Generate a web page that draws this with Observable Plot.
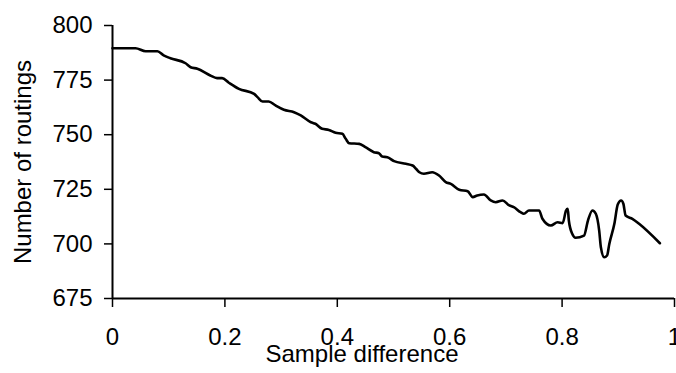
<!DOCTYPE html>
<html><head><meta charset="utf-8">
<script src="https://cdn.jsdelivr.net/npm/d3@7"></script>
<script src="https://cdn.jsdelivr.net/npm/@observablehq/plot@0.6"></script>
<style>html,body{margin:0;padding:0;background:#fff;overflow:hidden;}</style>
</head><body><div id="chart"></div>
<script>
const sampleDiff = [0,0.041,0.059,0.080,0.091,0.103,0.130,0.139,0.151,0.174,0.186,0.195,0.207,0.225,0.252,0.258,0.267,0.278,0.290,0.305,0.323,0.335,0.353,0.361,0.373,0.385,0.397,0.409,0.415,0.421,0.439,0.450,0.465,0.474,0.480,0.489,0.501,0.522,0.534,0.540,0.546,0.554,0.569,0.581,0.593,0.602,0.617,0.632,0.641,0.649,0.661,0.673,0.682,0.694,0.706,0.714,0.726,0.732,0.741,0.759,0.765,0.780,0.792,0.801,0.807,0.810,0.812,0.818,0.824,0.839,0.846,0.854,0.860,0.866,0.869,0.875,0.880,0.884,0.893,0.899,0.905,0.909,0.913,0.925,0.937,0.974];
const routings = [789.6,789.6,788.2,788.2,786.3,785.0,782.7,780.9,780.2,777.1,775.9,775.9,773.8,771.0,768.7,767.2,765.2,765.2,763.4,761.4,760.3,758.8,755.7,755.0,752.7,752.2,750.9,750.4,748.1,746.1,745.8,744.3,742.0,741.5,740.0,739.7,737.9,736.7,735.9,734.4,732.8,732.1,732.8,731.3,728.3,727.5,724.8,724.1,721.4,722.2,722.6,719.9,719.1,719.9,717.6,716.8,714.5,713.8,715.3,715.3,711.5,708.4,709.9,709.5,715.3,716.1,710.7,704.6,702.8,703.8,710.7,715.3,713.8,706.1,698.5,693.9,694.7,700.0,709.2,718.0,719.9,718.4,713.0,711.5,709.2,700.3];
const xTicks = [0,0.2,0.4,0.6,0.8,1];
const yTicks = [675,700,725,750,775,800];
const xLabel = "Sample difference";
const yLabel = "Number of routings";

const data = sampleDiff.map((x, i) => ({x, y: routings[i]}));

const chart = Plot.plot({
  width: 676, height: 373,
  marginLeft: 112, marginRight: 2, marginTop: 25, marginBottom: 75,
  style: {fontFamily: "'Liberation Sans', Arial, sans-serif", fontSize: "24px", color: "#000", background: "#fff"},
  x: {domain: [0, 1]},
  y: {domain: [675, 800]},
  marks: [
    Plot.axisX({ticks: xTicks, tickFormat: d => String(d), tickSize: 9, tickPadding: 20, label: null, strokeWidth: 1.5, fontSize: 24}),
    Plot.axisY({ticks: yTicks, tickFormat: d => String(d), tickSize: 8, tickPadding: 12, label: null, strokeWidth: 1.5, fontSize: 24}),
    Plot.ruleY([675], {strokeWidth: 2}),
    Plot.ruleX([0], {strokeWidth: 2}),
    Plot.line(data, {x: "x", y: "y", curve: "monotone-x", stroke: "#000", strokeWidth: 2.6})
  ]
});
document.getElementById("chart").appendChild(chart);
const svg = d3.select(chart);
svg.append("text").attr("x", 362).attr("y", 362).attr("text-anchor", "middle")
  .attr("font-size", 24).attr("fill", "#000").text(xLabel);
svg.append("text").attr("transform", "translate(31,162) rotate(-90)").attr("text-anchor", "middle")
  .attr("font-size", 24).attr("fill", "#000").text(yLabel);
</script>
</body></html>
